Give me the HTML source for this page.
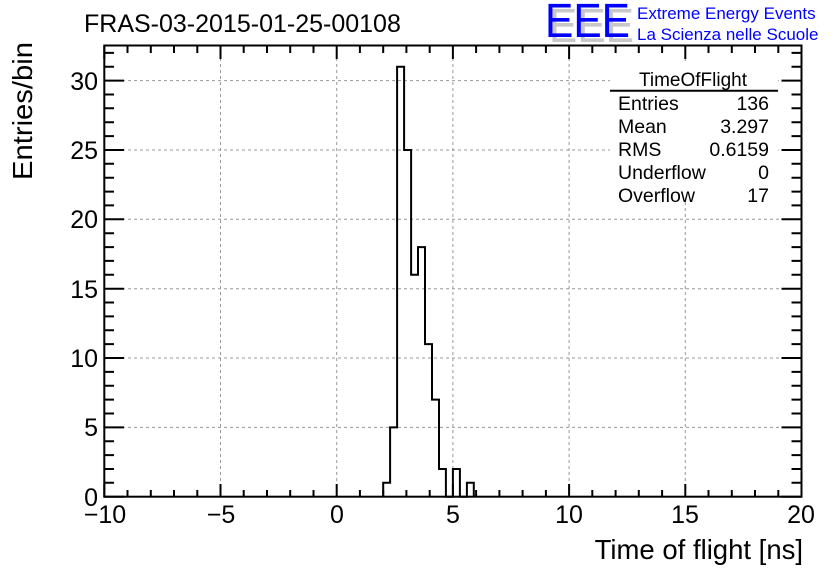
<!DOCTYPE html>
<html><head><meta charset="utf-8"><style>
html,body{margin:0;padding:0;background:#fff;}
svg{display:block;}
text{font-family:"Liberation Sans",sans-serif;}
</style></head><body>
<svg width="836" height="572" viewBox="0 0 836 572" xmlns="http://www.w3.org/2000/svg">
<rect width="836" height="572" fill="#fff"/>
<g stroke="#999" stroke-width="1" stroke-dasharray="3,3">
<line x1="220.5" y1="46" x2="220.5" y2="497"/>
<line x1="336.7" y1="46" x2="336.7" y2="497"/>
<line x1="452.9" y1="46" x2="452.9" y2="497"/>
<line x1="569.1" y1="46" x2="569.1" y2="497"/>
<line x1="685.3" y1="46" x2="685.3" y2="497"/>
<line x1="104" y1="427.4" x2="802" y2="427.4"/>
<line x1="104" y1="358.0" x2="802" y2="358.0"/>
<line x1="104" y1="288.7" x2="802" y2="288.7"/>
<line x1="104" y1="219.3" x2="802" y2="219.3"/>
<line x1="104" y1="150.0" x2="802" y2="150.0"/>
<line x1="104" y1="80.6" x2="802" y2="80.6"/>
</g>
<path fill="none" stroke="#000" stroke-width="2" d="M383.2,496.7 V482.8 H390.1 V427.4 H397.1 V66.7 H404.1 V150.0 H411.1 V274.8 H418.0 V247.1 H425.0 V344.1 H432.0 V399.6 H439.0 V469.0 H445.9 V496.7 H452.9 V469.0 H459.9 V496.7 H466.9 V482.8 H473.8 V496.7"/>
<path fill="none" stroke="#000" stroke-width="2" d="
M104.3,497V484M127.5,497V490M150.8,497V490M174.0,497V490M197.3,497V490M220.5,497V484M243.7,497V490M267.0,497V490M290.2,497V490M313.5,497V490M336.7,497V484M359.9,497V490M383.2,497V490M406.4,497V490M429.7,497V490M452.9,497V484M476.1,497V490M499.4,497V490M522.6,497V490M545.9,497V490M569.1,497V484M592.3,497V490M615.6,497V490M638.8,497V490M662.1,497V490M685.3,497V484M708.5,497V490M731.8,497V490M755.0,497V490M778.3,497V490M801.5,497V484
M104.3,46V59M127.5,46V53M150.8,46V53M174.0,46V53M197.3,46V53M220.5,46V59M243.7,46V53M267.0,46V53M290.2,46V53M313.5,46V53M336.7,46V59M359.9,46V53M383.2,46V53M406.4,46V53M429.7,46V53M452.9,46V59M476.1,46V53M499.4,46V53M522.6,46V53M545.9,46V53M569.1,46V59M592.3,46V53M615.6,46V53M638.8,46V53M662.1,46V53M685.3,46V59M708.5,46V53M731.8,46V53M755.0,46V53M778.3,46V53M801.5,46V59
M104.3,496.7H124M104.3,482.8H114M104.3,469.0H114M104.3,455.1H114M104.3,441.2H114M104.3,427.4H124M104.3,413.5H114M104.3,399.6H114M104.3,385.7H114M104.3,371.9H114M104.3,358.0H124M104.3,344.1H114M104.3,330.3H114M104.3,316.4H114M104.3,302.5H114M104.3,288.7H124M104.3,274.8H114M104.3,260.9H114M104.3,247.1H114M104.3,233.2H114M104.3,219.3H124M104.3,205.4H114M104.3,191.6H114M104.3,177.7H114M104.3,163.8H114M104.3,150.0H124M104.3,136.1H114M104.3,122.2H114M104.3,108.3H114M104.3,94.5H114M104.3,80.6H124M104.3,66.7H114M104.3,52.9H114
M801.5,496.7H781.5M801.5,482.8H791.5M801.5,469.0H791.5M801.5,455.1H791.5M801.5,441.2H791.5M801.5,427.4H781.5M801.5,413.5H791.5M801.5,399.6H791.5M801.5,385.7H791.5M801.5,371.9H791.5M801.5,358.0H781.5M801.5,344.1H791.5M801.5,330.3H791.5M801.5,316.4H791.5M801.5,302.5H791.5M801.5,288.7H781.5M801.5,274.8H791.5M801.5,260.9H791.5M801.5,247.1H791.5M801.5,233.2H791.5M801.5,219.3H781.5M801.5,205.4H791.5M801.5,191.6H791.5M801.5,177.7H791.5M801.5,163.8H791.5M801.5,150.0H781.5M801.5,136.1H791.5M801.5,122.2H791.5M801.5,108.3H791.5M801.5,94.5H791.5M801.5,80.6H781.5M801.5,66.7H791.5M801.5,52.9H791.5"/>
<rect x="104.3" y="45.5" width="697.2" height="451.2" fill="none" stroke="#000" stroke-width="2"/>
<g font-size="25" text-anchor="middle" fill="#000">
<text x="105" y="523">−10</text><text x="221" y="523">−5</text><text x="337" y="523">0</text>
<text x="453" y="523">5</text><text x="569" y="523">10</text><text x="685" y="523">15</text><text x="801" y="523">20</text>
</g>
<g font-size="25" text-anchor="end" fill="#000">
<text x="98" y="506">0</text><text x="98" y="436">5</text><text x="98" y="367">10</text>
<text x="98" y="298">15</text><text x="98" y="228">20</text><text x="98" y="159">25</text><text x="98" y="90">30</text>
</g>
<text x="803" y="559" font-size="27.5" text-anchor="end">Time of flight [ns]</text>
<text transform="translate(32,180) rotate(-90)" font-size="28" textLength="138" lengthAdjust="spacingAndGlyphs">Entries/bin</text>
<text x="84" y="32" font-size="25">FRAS-03-2015-01-25-00108</text>
<g font-size="48">
<text x="549" y="42" fill="#c8c8c8" textLength="85" lengthAdjust="spacingAndGlyphs">EEE</text>
<text x="545" y="37" fill="#0000ff" textLength="85" lengthAdjust="spacingAndGlyphs">EEE</text>
</g>
<text x="637" y="19" font-size="17" fill="#0000ff">Extreme Energy Events</text>
<text x="637" y="40" font-size="17" fill="#0000ff">La Scienza nelle Scuole</text>
<rect x="610" y="62" width="168" height="140" fill="#fff"/>
<text x="693" y="86" font-size="19" text-anchor="middle">TimeOfFlight</text>
<line x1="610" y1="90.7" x2="778" y2="90.7" stroke="#000" stroke-width="2"/>
<g font-size="19.5">
<text x="618" y="110">Entries</text><text x="769" y="110" text-anchor="end">136</text>
<text x="618" y="133">Mean</text><text x="769" y="133" text-anchor="end">3.297</text>
<text x="618" y="156">RMS</text><text x="769" y="156" text-anchor="end">0.6159</text>
<text x="618" y="179">Underflow</text><text x="769" y="179" text-anchor="end">0</text>
<text x="618" y="202">Overflow</text><text x="769" y="202" text-anchor="end">17</text>
</g>
</svg>
</body></html>
